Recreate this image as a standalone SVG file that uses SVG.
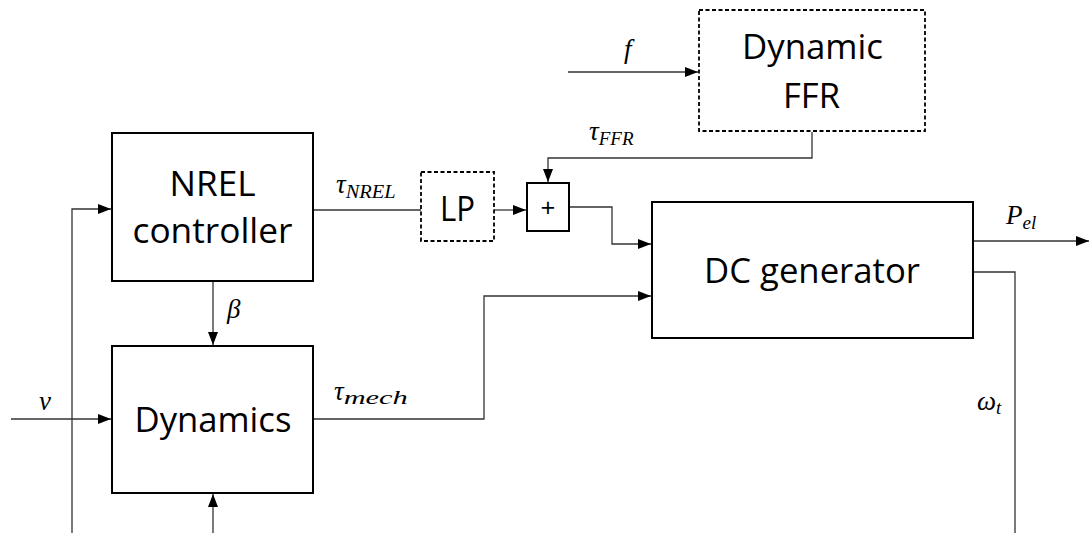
<svg xmlns="http://www.w3.org/2000/svg" width="1089" height="533" viewBox="0 0 1089 533">
<style>
.box{fill:#fff;stroke:#000;stroke-width:2}
.dash{fill:#fff;stroke:#000;stroke-width:1.8;stroke-dasharray:4 2.5}
.lbl{font-family:"Open Sans","Noto Sans",sans-serif;font-size:35px;fill:#000;text-anchor:middle}
.plus{font-family:"Open Sans","Noto Sans",sans-serif;font-size:26px;fill:#000;text-anchor:middle}
.m{font-family:"Liberation Serif","DejaVu Serif",serif;font-style:italic;font-size:27px;fill:#000}
.s{font-size:19px}
.c{fill:none;stroke:#333;stroke-width:1.3}
</style>
<defs>
<marker id="ah" markerUnits="userSpaceOnUse" markerWidth="13" markerHeight="10" refX="13" refY="5" orient="auto">
<path d="M0,0 L13,5 L0,10 z" fill="#000"/>
</marker>
</defs>
<rect width="1089" height="533" fill="#fff"/>
<g id="connectors">
<path class="c" d="M72,533 V209 H111" marker-end="url(#ah)"/>
<path class="c" d="M11,419 H111" marker-end="url(#ah)"/>
<path class="c" d="M213,282 V345" marker-end="url(#ah)"/>
<path class="c" d="M213,533 V494" marker-end="url(#ah)"/>
<path class="c" d="M314,210 H421"/>
<path class="c" d="M494,210 H526" marker-end="url(#ah)"/>
<path class="c" d="M812,132 V158 H548 V182" marker-end="url(#ah)"/>
<path class="c" d="M568,72 H698" marker-end="url(#ah)"/>
<path class="c" d="M570,207 H612 V244 H651" marker-end="url(#ah)"/>
<path class="c" d="M314,419 H484 V296 H651" marker-end="url(#ah)"/>
<path class="c" d="M974,241 H1089" marker-end="url(#ah)"/>
<path class="c" d="M974,272 H1015 V533"/>
</g>
<g id="nrel">
<rect class="box" x="112" y="133" width="201" height="148"/>
<text class="lbl" x="212.5" y="196" textLength="86" lengthAdjust="spacingAndGlyphs">NREL</text>
<text class="lbl" x="212.5" y="243" textLength="160" lengthAdjust="spacingAndGlyphs">controller</text>
</g>
<g id="dynamics">
<rect class="box" x="112" y="346" width="201" height="147"/>
<text class="lbl" x="213" y="432" textLength="157" lengthAdjust="spacingAndGlyphs">Dynamics</text>
</g>
<g id="lp">
<rect class="dash" x="421" y="172" width="73" height="69"/>
<text class="lbl" x="457.5" y="221" textLength="35" lengthAdjust="spacingAndGlyphs">LP</text>
</g>
<g id="sum">
<rect class="box" x="527" y="183" width="42" height="48"/>
<text class="plus" x="548" y="217">+</text>
</g>
<g id="ffr">
<rect class="dash" x="699" y="10" width="226" height="121"/>
<text class="lbl" x="812.5" y="59" textLength="141" lengthAdjust="spacingAndGlyphs">Dynamic</text>
<text class="lbl" x="811.5" y="108" textLength="57" lengthAdjust="spacingAndGlyphs">FFR</text>
</g>
<g id="dcgen">
<rect class="box" x="652" y="202" width="321" height="136"/>
<text class="lbl" x="812" y="283" textLength="216" lengthAdjust="spacingAndGlyphs">DC generator</text>
</g>
<g id="labels">
<text class="m" x="624" y="58">f</text>
<text class="m" x="336" y="193">τ<tspan class="s" dy="5" textLength="50" lengthAdjust="spacingAndGlyphs">NREL</tspan></text>
<text class="m" x="589" y="140">τ<tspan class="s" dy="5">FFR</tspan></text>
<text class="m" x="334" y="400">τ<tspan class="s" dy="4" textLength="64" lengthAdjust="spacingAndGlyphs">mech</tspan></text>
<text class="m" x="227" y="318">β</text>
<text class="m" x="39" y="410">v</text>
<text class="m" x="1006" y="224">P<tspan class="s" dy="5">el</tspan></text>
<text class="m" x="977" y="410">ω<tspan class="s" dy="4">t</tspan></text>
</g>
</svg>
